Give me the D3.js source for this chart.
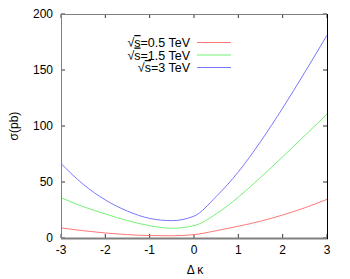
<!DOCTYPE html>
<html>
<head>
<meta charset="utf-8">
<script src="https://cdn.jsdelivr.net/npm/d3@7/dist/d3.min.js"></script>
<style>
  body { margin: 0; background: #fff; }
  text { font-family: "Liberation Sans", Arial, sans-serif; }
</style>
</head>
<body>
<svg id="chart" width="350" height="279"></svg>
<script>
// delta kappa values
const kappa = [-3, -2.5, -2, -1.5, -1, -0.5, 0, 0.5, 1, 1.5, 2, 2.5, 3]
// cross sections (pb) per energy
const sig05 = [9, 6.5, 4.5, 3, 2.2, 2, 3, 6.5, 10.5, 15, 20.5, 27, 34.5]
const sig15 = [36, 28, 21.5, 15.5, 11, 8.7, 11, 21.5, 36.5, 54, 72.5, 91.5, 110.5]
const sig3 = [66.5, 48, 34, 24, 17.5, 15.5, 19.5, 37, 59, 86, 116, 148, 181]
const seriesNames = ['=0.5 TeV', '=1.5 TeV', '=3 TeV']
const xTicks = [-3, -2, -1, 0, 1, 2, 3]
const yTicks = [0, 50, 100, 150, 200]

const colors = ['#ff7878', '#74f074', '#7878ff']
const series = [sig05, sig15, sig3]

const svg = d3.select('#chart')
const mLeft = 61, mRight = 327, mTop = 14, mBottom = 238

const x = d3.scaleLinear().domain([-3, 3]).range([mLeft, mRight])
const y = d3.scaleLinear().domain([0, 200]).range([mBottom, mTop])

// ticks (inward)
const g = svg.append('g')
xTicks.forEach(t => {
  g.append('line').attr('x1', x(t)).attr('x2', x(t)).attr('y1', mBottom).attr('y2', mBottom - 4).attr('stroke', '#333')
  g.append('line').attr('x1', x(t)).attr('x2', x(t)).attr('y1', mTop).attr('y2', mTop + 4).attr('stroke', '#333')
  g.append('text').attr('x', x(t)).attr('y', mBottom + 16).attr('text-anchor', 'middle')
    .attr('font-size', 12).text(t)
})
yTicks.forEach(t => {
  g.append('line').attr('x1', mLeft).attr('x2', mLeft + 4).attr('y1', y(t)).attr('y2', y(t)).attr('stroke', '#333')
  g.append('line').attr('x1', mRight).attr('x2', mRight - 4).attr('y1', y(t)).attr('y2', y(t)).attr('stroke', '#333')
  g.append('text').attr('x', mLeft - 8).attr('y', y(t) + 4).attr('text-anchor', 'end')
    .attr('font-size', 12).text(t)
})

// curves
const line = d3.line().x((d, i) => x(kappa[i])).y(d => y(d)).curve(d3.curveMonotoneX)
series.forEach((s, i) => {
  svg.append('path').attr('d', line(s)).attr('fill', 'none')
    .attr('stroke', colors[i]).attr('stroke-width', 1)
})

// border
svg.append('line').attr('x1', mLeft).attr('x2', mRight).attr('y1', mTop + 0.5).attr('y2', mTop + 0.5).attr('stroke', '#808080')
svg.append('line').attr('x1', mLeft + 0.5).attr('x2', mLeft + 0.5).attr('y1', mTop).attr('y2', mBottom).attr('stroke', '#808080')
svg.append('line').attr('x1', mLeft).attr('x2', mRight + 1).attr('y1', mBottom + 0.5).attr('y2', mBottom + 0.5).attr('stroke', '#808080').attr('stroke-width', 2)
svg.append('line').attr('x1', mRight + 0.5).attr('x2', mRight + 0.5).attr('y1', mTop).attr('y2', mBottom + 1).attr('stroke', '#000')

// legend
seriesNames.forEach((n, i) => {
  const ly = 42.5 + i * 12.5
  const t = svg.append('text').attr('x', 190).attr('y', ly + 4.5).attr('text-anchor', 'end').attr('font-size', 12.5)
  t.append('tspan').text('√')
  t.append('tspan').style('text-decoration', 'overline').text('s')
  t.append('tspan').text(n)
  svg.append('line').attr('x1', 197).attr('x2', 231).attr('y1', ly).attr('y2', ly)
    .attr('stroke', colors[i])
})

// axis labels
svg.append('text').attr('transform', 'translate(18,126) rotate(-90)').attr('text-anchor', 'middle')
  .attr('font-size', 12).text('σ(pb)')
svg.append('text').attr('x', 195).attr('y', 274).attr('text-anchor', 'middle')
  .attr('font-size', 12).text('Δ κ')
</script>
</body>
</html>
